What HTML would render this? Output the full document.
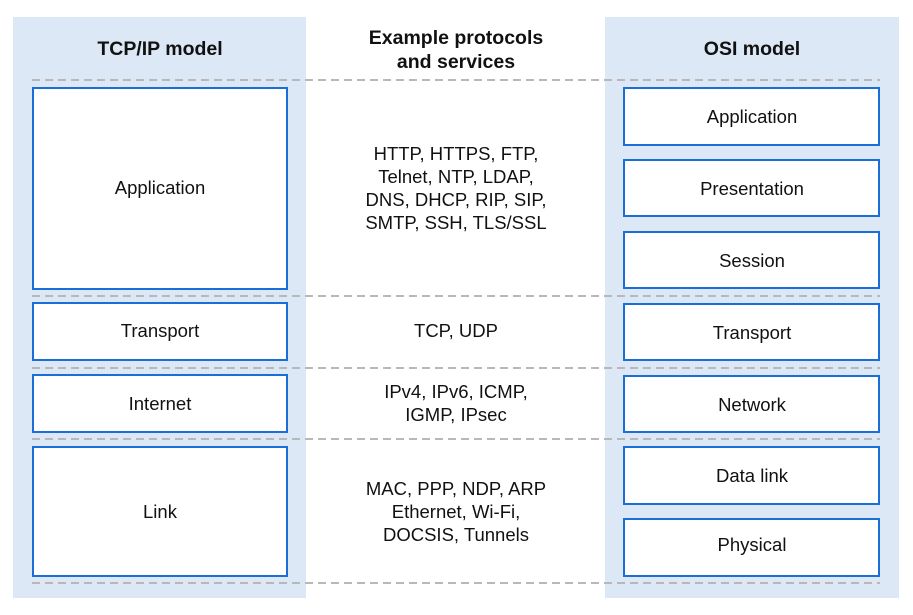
<!DOCTYPE html>
<html><head><style>body{margin:0;background:#fff}</style></head><body>
<svg width="913" height="610" xmlns="http://www.w3.org/2000/svg" font-family="Liberation Sans, sans-serif">
<rect x="13" y="17" width="293" height="581" fill="#dce8f5"/>
<rect x="605" y="17" width="294" height="581" fill="#dce8f5"/>
<g stroke="#b8b8b8" stroke-width="2" stroke-dasharray="8,5">
<line x1="32" y1="80" x2="880" y2="80"/><line x1="32" y1="296" x2="880" y2="296"/>
<line x1="32" y1="368" x2="880" y2="368"/><line x1="32" y1="439" x2="880" y2="439"/>
<line x1="32" y1="583" x2="880" y2="583"/></g>
<g fill="#fff" stroke="#1a6fd6" stroke-width="2">
<rect x="33" y="88" width="254" height="201"/><rect x="33" y="303" width="254" height="57"/>
<rect x="33" y="375" width="254" height="57"/><rect x="33" y="447" width="254" height="129"/>
<rect x="624" y="88" width="255" height="57"/><rect x="624" y="160" width="255" height="56"/>
<rect x="624" y="232" width="255" height="56"/><rect x="624" y="304" width="255" height="56"/>
<rect x="624" y="376" width="255" height="56"/><rect x="624" y="447" width="255" height="57"/>
<rect x="624" y="519" width="255" height="57"/></g>
<g font-size="19.5" font-weight="bold" text-anchor="middle" fill="#111">
<text x="160" y="55">TCP/IP model</text><text x="752" y="55">OSI model</text>
<text x="456" y="44">Example protocols</text><text x="456" y="68">and services</text></g>
<g font-size="18.5" text-anchor="middle" fill="#111">
<text x="160" y="194">Application</text><text x="160" y="337">Transport</text>
<text x="160" y="410">Internet</text><text x="160" y="518">Link</text>
<text x="752" y="123">Application</text><text x="752" y="195">Presentation</text>
<text x="752" y="267">Session</text><text x="752" y="339">Transport</text>
<text x="752" y="411">Network</text><text x="752" y="482">Data link</text>
<text x="752" y="551">Physical</text>
<text x="456" y="160">HTTP, HTTPS, FTP,</text><text x="456" y="183">Telnet, NTP, LDAP,</text>
<text x="456" y="206">DNS, DHCP, RIP, SIP,</text><text x="456" y="229">SMTP, SSH, TLS/SSL</text>
<text x="456" y="337">TCP, UDP</text>
<text x="456" y="398">IPv4, IPv6, ICMP,</text><text x="456" y="421">IGMP, IPsec</text>
<text x="456" y="495">MAC, PPP, NDP, ARP</text><text x="456" y="518">Ethernet, Wi-Fi,</text>
<text x="456" y="541">DOCSIS, Tunnels</text></g>
</svg>
</body></html>
